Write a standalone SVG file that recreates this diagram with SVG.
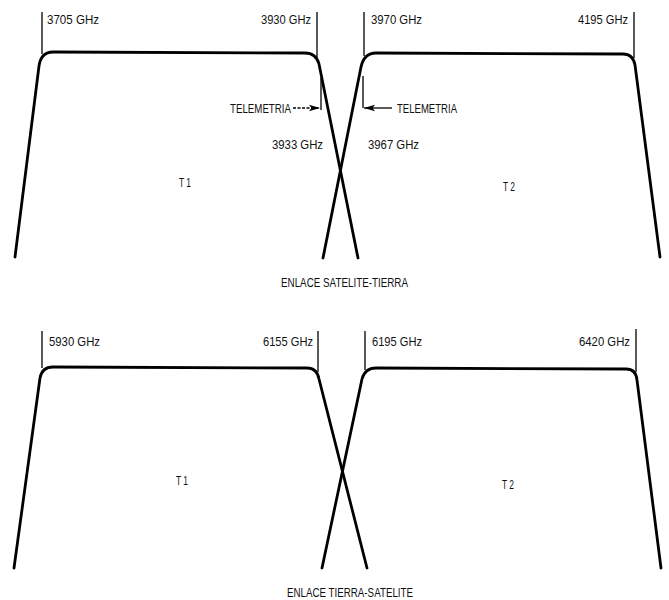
<svg xmlns="http://www.w3.org/2000/svg" width="669" height="600" viewBox="0 0 669 600">
<style>
.c{fill:none;stroke:#000;stroke-width:2.8;stroke-linejoin:round;stroke-linecap:round}
.t{fill:none;stroke:#000;stroke-width:1.3}
.l{font-family:"Liberation Sans",Arial,sans-serif;font-size:13.5px;fill:#111}
</style>
<defs>
<marker id="ah" markerWidth="12" markerHeight="8" refX="11" refY="4" orient="auto" markerUnits="userSpaceOnUse">
<path d="M0,0.8 L11,4 L0,7.2 L2.5,4 Z" fill="#000"/>
</marker>
</defs>
<rect width="669" height="600" fill="#fff"/>
<g id="top-panel">
<g id="top-T1">
<path class="c" d="M15 257 L39 66 Q41 52 53 52 L305 53 Q316 53 319 64 L358 258"/>
<line class="t" x1="42" y1="12" x2="42" y2="54"/>
<line class="t" x1="317" y1="12" x2="317" y2="58"/>
<text class="l" x="47" y="24" textLength="52" lengthAdjust="spacingAndGlyphs">3705 GHz</text>
<text class="l" x="261" y="24" textLength="50" lengthAdjust="spacingAndGlyphs">3930 GHz</text>
<text class="l" x="179" y="187" textLength="12" lengthAdjust="spacingAndGlyphs">T 1</text>
</g>
<g id="top-T2">
<path class="c" d="M323 258 L361 67 Q364 53 376 53 L623 54 Q633 54 635 65 L660 257"/>
<line class="t" x1="364" y1="12" x2="364" y2="56"/>
<line class="t" x1="634" y1="12" x2="634" y2="58"/>
<text class="l" x="371" y="24" textLength="51" lengthAdjust="spacingAndGlyphs">3970 GHz</text>
<text class="l" x="578" y="24" textLength="50" lengthAdjust="spacingAndGlyphs">4195 GHz</text>
<text class="l" x="503" y="191" textLength="12" lengthAdjust="spacingAndGlyphs">T 2</text>
</g>
<g id="telemetry-left">
<line class="t" x1="321" y1="78" x2="321" y2="110"/>
<text class="l" x="230" y="113" textLength="61" lengthAdjust="spacingAndGlyphs">TELEMETRIA</text>
<text class="l" x="272" y="149" textLength="51" lengthAdjust="spacingAndGlyphs">3933 GHz</text>
</g>
<g id="telemetry-right">
<line class="t" x1="363" y1="76" x2="363" y2="108"/>
<text class="l" x="397" y="113" textLength="60" lengthAdjust="spacingAndGlyphs">TELEMETRIA</text>
<text class="l" x="368" y="149" textLength="51" lengthAdjust="spacingAndGlyphs">3967 GHz</text>
</g>
<text class="l" x="281" y="287" textLength="127" lengthAdjust="spacingAndGlyphs">ENLACE SATELITE-TIERRA</text>
</g>
<g id="bottom-panel">
<g id="bot-T1">
<path class="c" d="M14 568 L40 378 Q42 367 53 367 L307 368 Q317 368 319 379 L367 568"/>
<line class="t" x1="42" y1="331" x2="42" y2="368"/>
<line class="t" x1="318" y1="331" x2="318" y2="372"/>
<text class="l" x="49" y="346" textLength="51" lengthAdjust="spacingAndGlyphs">5930 GHz</text>
<text class="l" x="263" y="346" textLength="50" lengthAdjust="spacingAndGlyphs">6155 GHz</text>
<text class="l" x="176" y="485" textLength="12" lengthAdjust="spacingAndGlyphs">T 1</text>
</g>
<g id="bot-T2">
<path class="c" d="M322 568 L362 379 Q365 368 376 368 L626 369 Q636 369 637 380 L661 568"/>
<line class="t" x1="365" y1="331" x2="365" y2="370"/>
<line class="t" x1="636" y1="329" x2="636" y2="372"/>
<text class="l" x="372" y="346" textLength="50" lengthAdjust="spacingAndGlyphs">6195 GHz</text>
<text class="l" x="579" y="346" textLength="51" lengthAdjust="spacingAndGlyphs">6420 GHz</text>
<text class="l" x="502" y="489" textLength="12" lengthAdjust="spacingAndGlyphs">T 2</text>
</g>
<text class="l" x="287" y="597" textLength="126" lengthAdjust="spacingAndGlyphs">ENLACE TIERRA-SATELITE</text>
</g>
<g id="connectors">
<line class="t" x1="293" y1="108" x2="320" y2="108" stroke-dasharray="3,1.5" marker-end="url(#ah)"/>
<line class="t" x1="392" y1="108" x2="364" y2="108" marker-end="url(#ah)"/>
</g>
</svg>
